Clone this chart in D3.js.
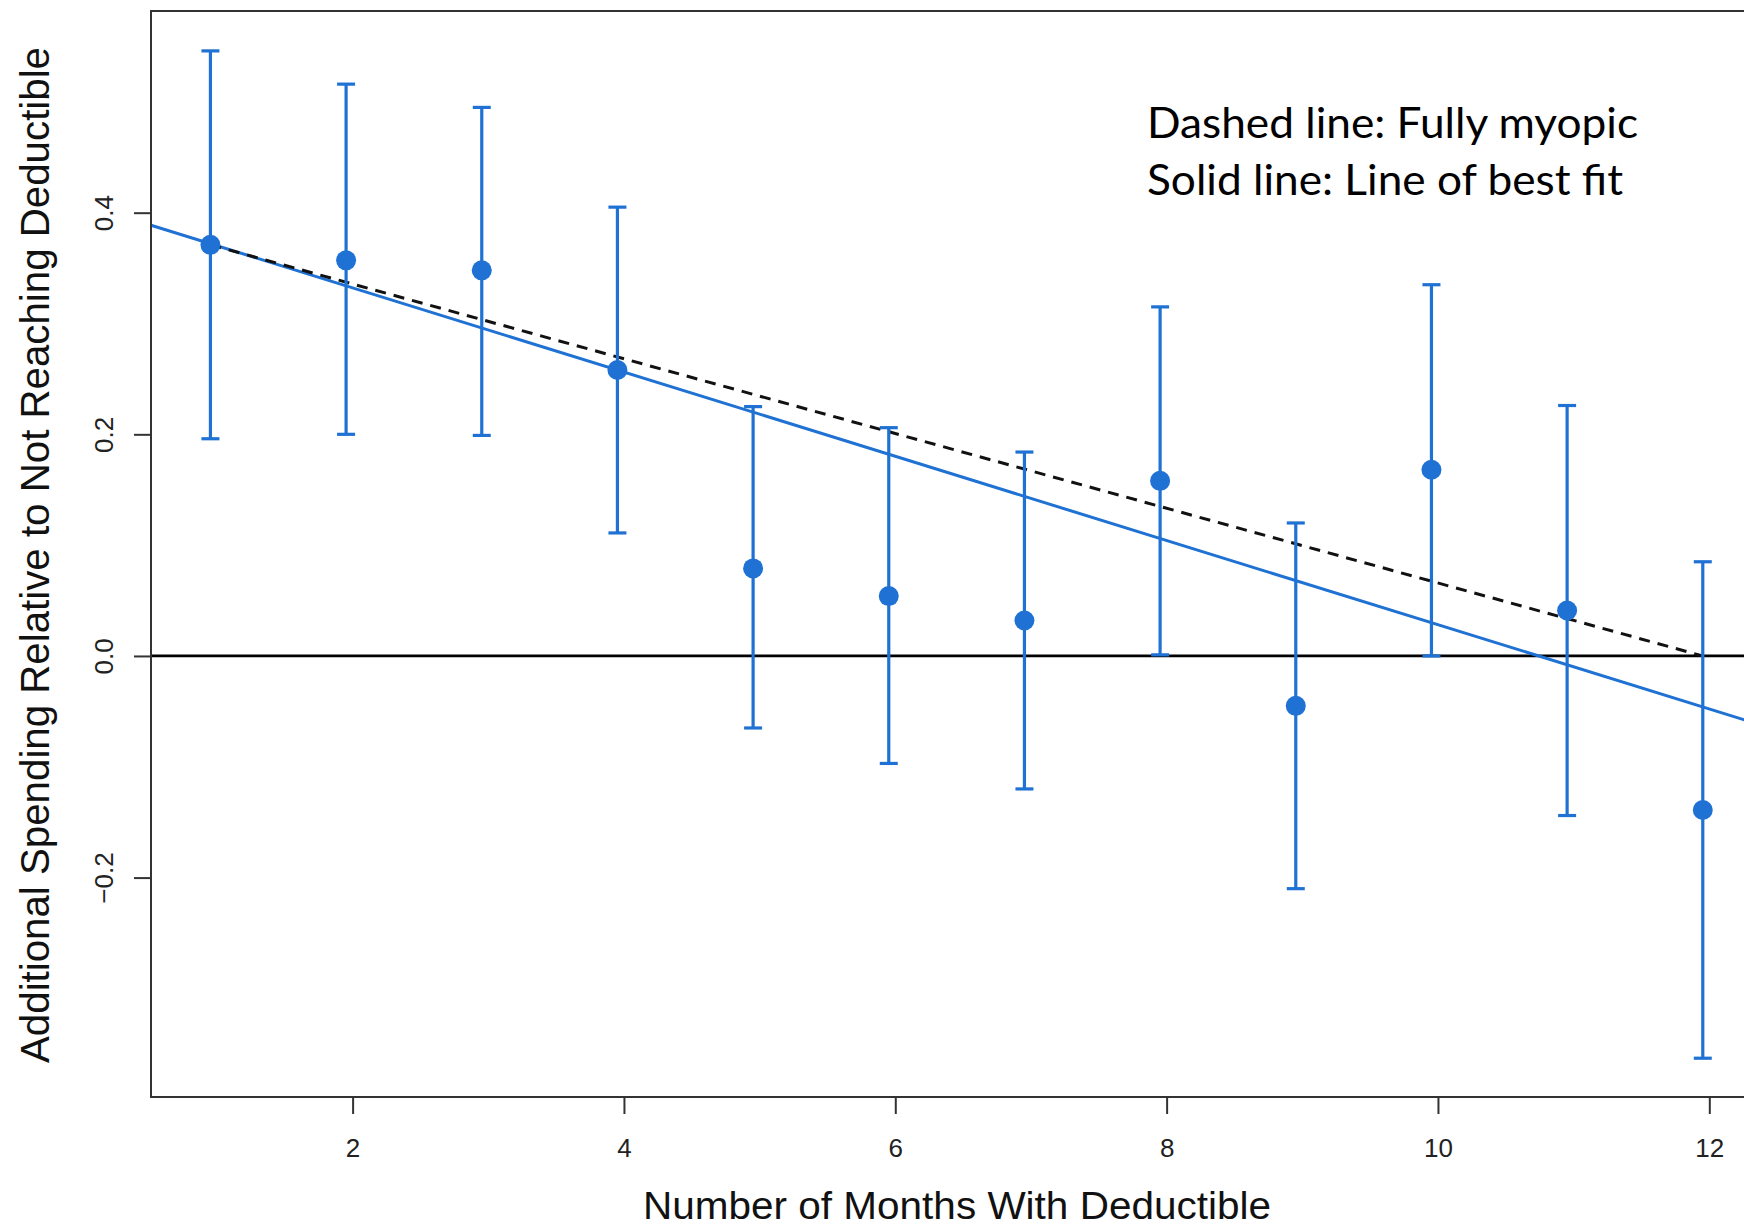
<!DOCTYPE html>
<html>
<head>
<meta charset="utf-8">
<script src="https://cdn.jsdelivr.net/npm/d3@7"></script>
<style>
  body { margin: 0; background: #fff; }
  svg { display: block; }
</style>
</head>
<body>
<div id="chart"></div>
<script>
// months with the deductible, point estimates and 95% interval ends
const months = [1, 2, 3, 4, 5, 6, 7, 8, 9, 10, 11, 12];
const estimates = [0.371, 0.357, 0.348, 0.258, 0.079, 0.054, 0.032, 0.158, -0.045, 0.168, 0.041, -0.139];
const upper = [0.546, 0.516, 0.495, 0.405, 0.225, 0.206, 0.184, 0.315, 0.120, 0.335, 0.226, 0.085];
const lower = [0.196, 0.200, 0.199, 0.111, -0.065, -0.097, -0.120, 0.001, -0.210, 0.000, -0.144, -0.363];

// fully myopic benchmark (dashed) and fitted line (solid)
const myopicLine = [{ month: 1, value: 0.371 }, { month: 12, value: 0 }];
const fitIntercept = 0.41;
const fitSlope = -0.038;

const xTicks = [2, 4, 6, 8, 10, 12];
const yTicks = [-0.2, 0, 0.2, 0.4];

const width = 1744, height = 1226;
const blue = "#1f72d3";
const rFont = "'Liberation Sans', Arial, Helvetica, sans-serif";

const svg = d3.select("#chart").append("svg")
    .attr("width", width)
    .attr("height", height);

const plotLeft = 151, plotTop = 11, plotBottom = 1097, plotRight = 1750;

const x = d3.scaleLinear()
    .domain([0.514, 12.3])
    .range([plotLeft, plotRight]);

const y = d3.scaleLinear()
    .domain([-0.398, 0.582])
    .range([plotBottom, plotTop]);

// points sit a touch left of the tick marks in the original
const markShift = -0.048;
const mx = m => x(m + markShift);

const points = months.map((m, i) => ({
    month: m,
    value: estimates[i],
    hi: upper[i],
    lo: lower[i]
}));

// zero line
svg.append("line")
    .attr("x1", plotLeft)
    .attr("x2", plotRight)
    .attr("y1", y(0))
    .attr("y2", y(0))
    .attr("stroke", "#000")
    .attr("stroke-width", 2.8);

// line of best fit
const m0 = x.domain()[0] - markShift, m1 = x.domain()[1] - markShift;
svg.append("line")
    .attr("x1", mx(m0))
    .attr("y1", y(fitIntercept + fitSlope * m0))
    .attr("x2", mx(m1))
    .attr("y2", y(fitIntercept + fitSlope * m1))
    .attr("stroke", blue)
    .attr("stroke-width", 3);

// fully myopic line
svg.append("path")
    .datum(myopicLine)
    .attr("d", d3.line().x(d => mx(d.month)).y(d => y(d.value)))
    .attr("fill", "none")
    .attr("stroke", "#111")
    .attr("stroke-width", 3)
    .attr("stroke-dasharray", "11,8");

// error bars
const bars = svg.append("g").selectAll("g")
    .data(points)
    .join("g")
    .attr("stroke", blue)
    .attr("stroke-width", 3.2);

bars.append("line")
    .attr("x1", d => mx(d.month))
    .attr("x2", d => mx(d.month))
    .attr("y1", d => y(d.hi))
    .attr("y2", d => y(d.lo));

bars.append("line")
    .attr("x1", d => mx(d.month) - 9)
    .attr("x2", d => mx(d.month) + 9)
    .attr("y1", d => y(d.hi))
    .attr("y2", d => y(d.hi));

bars.append("line")
    .attr("x1", d => mx(d.month) - 9)
    .attr("x2", d => mx(d.month) + 9)
    .attr("y1", d => y(d.lo))
    .attr("y2", d => y(d.lo));

svg.append("g").selectAll("circle")
    .data(points)
    .join("circle")
    .attr("cx", d => mx(d.month))
    .attr("cy", d => y(d.value))
    .attr("r", 10)
    .attr("fill", blue);

// plot frame
svg.append("rect")
    .attr("x", plotLeft)
    .attr("y", plotTop)
    .attr("width", plotRight - plotLeft)
    .attr("height", plotBottom - plotTop)
    .attr("fill", "none")
    .attr("stroke", "#333")
    .attr("stroke-width", 2);

// axes
const xAxis = svg.append("g")
    .attr("transform", `translate(0,${plotBottom})`)
    .call(d3.axisBottom(x).tickValues(xTicks).tickSize(17).tickFormat(d3.format("d")));

xAxis.select(".domain").remove();
xAxis.selectAll(".tick line").attr("stroke", "#333").attr("stroke-width", 2);
xAxis.selectAll(".tick text")
    .attr("y", 60)
    .attr("dy", null)
    .attr("fill", "#222")
    .style("font-family", rFont)
    .style("font-size", "26px");

const yAxis = svg.append("g")
    .attr("transform", `translate(${plotLeft},0)`)
    .call(d3.axisLeft(y).tickValues(yTicks).tickSize(17).tickFormat(d3.format(".1f")));

yAxis.select(".domain").remove();
yAxis.selectAll(".tick line").attr("stroke", "#333").attr("stroke-width", 2);
yAxis.selectAll(".tick text")
    .attr("x", 0)
    .attr("y", -38)
    .attr("dy", null)
    .attr("transform", "rotate(-90)")
    .attr("text-anchor", "middle")
    .attr("fill", "#222")
    .style("font-family", rFont)
    .style("font-size", "26px");

// axis titles
svg.append("text")
    .attr("transform", "translate(49,555) rotate(-90)")
    .attr("text-anchor", "middle")
    .attr("textLength", 1016)
    .attr("lengthAdjust", "spacingAndGlyphs")
    .style("font-family", rFont)
    .style("font-size", "41px")
    .attr("fill", "#111")
    .text("Additional Spending Relative to Not Reaching Deductible");

svg.append("text")
    .attr("x", 957)
    .attr("y", 1219)
    .attr("text-anchor", "middle")
    .attr("textLength", 628)
    .attr("lengthAdjust", "spacingAndGlyphs")
    .style("font-family", rFont)
    .style("font-size", "39px")
    .attr("fill", "#111")
    .text("Number of Months With Deductible");

// note in the top right corner
const note = svg.append("g").attr("transform", "translate(1147,0)");

note.append("text")
    .attr("x", 0)
    .attr("y", 138)
    .attr("textLength", 491)
    .attr("lengthAdjust", "spacingAndGlyphs")
    .style("font-family", "Lato, 'Open Sans', sans-serif")
    .style("font-size", "42px")
    .attr("fill", "#000")
    .text("Dashed line: Fully myopic");

note.append("text")
    .attr("x", 0)
    .attr("y", 195)
    .attr("textLength", 476)
    .attr("lengthAdjust", "spacingAndGlyphs")
    .style("font-family", "Lato, 'Open Sans', sans-serif")
    .style("font-size", "42px")
    .attr("fill", "#000")
    .text("Solid line: Line of best fit");
</script>
</body>
</html>
